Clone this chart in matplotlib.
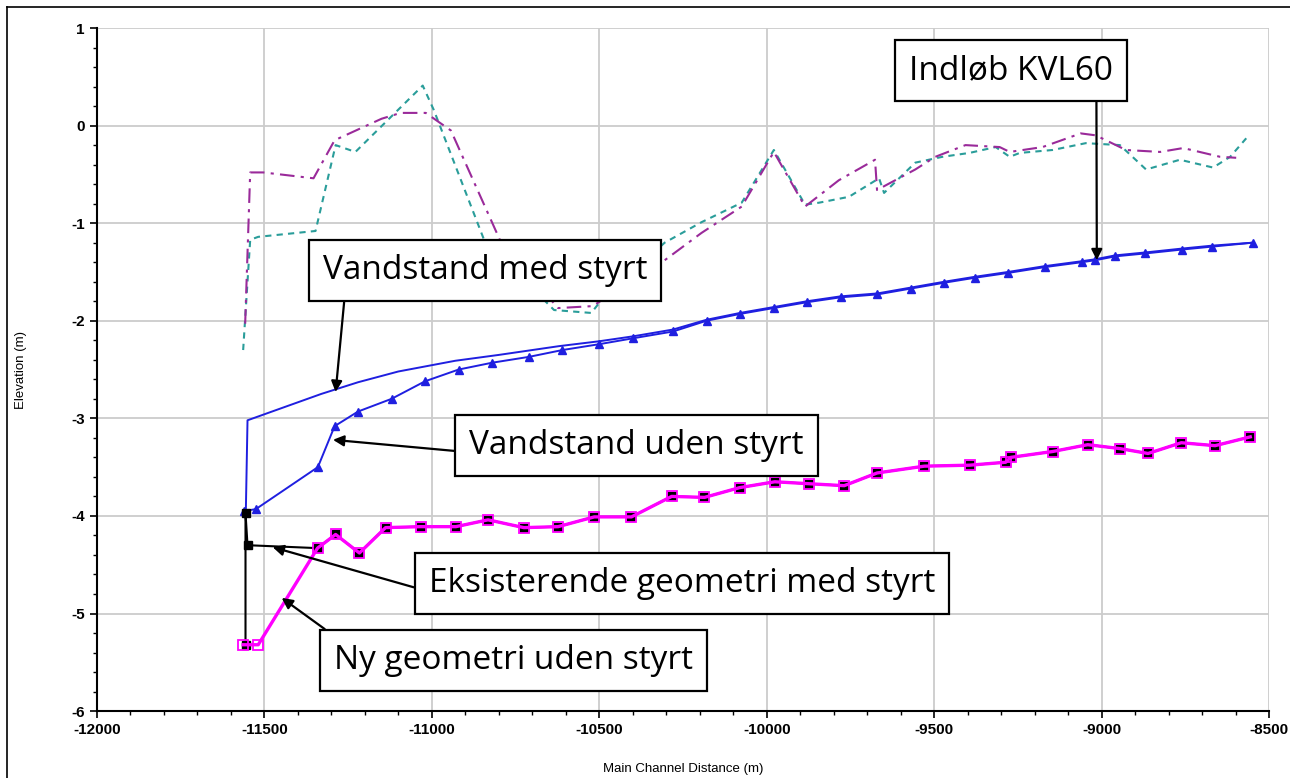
import matplotlib.pyplot as plt
from matplotlib.ticker import MultipleLocator
from matplotlib.lines import Line2D

plt.rcParams['axes.unicode_minus'] = False

# water level with drop structure ("med styrt")
ws_med_x = [-11555, -11550, -11330, -11220, -11100, -10930, -10800, -10620, -10500, -10400,
            -10280, -10180, -10080, -9980, -9880, -9780, -9670, -9570, -9470, -9380,
            -9280, -9170, -9060, -9020, -8960, -8870, -8760, -8670, -8550]
ws_med_y = [-3.95, -3.02, -2.75, -2.63, -2.52, -2.41, -2.35, -2.26, -2.21, -2.16,
            -2.09, -1.99, -1.92, -1.86, -1.80, -1.75, -1.72, -1.66, -1.60, -1.55,
            -1.50, -1.44, -1.39, -1.37, -1.33, -1.30, -1.26, -1.23, -1.20]

# water level without drop structure ("uden styrt")
ws_uden_x = [-11560, -11525, -11340, -11290, -11220, -11120, -11020, -10920, -10820, -10710,
             -10610, -10500, -10400, -10280, -10180, -10080, -9980, -9880, -9780, -9670,
             -9570, -9470, -9380, -9280, -9170, -9060, -9020, -8960, -8870, -8760,
             -8670, -8550]
ws_uden_y = [-3.95, -3.93, -3.50, -3.08, -2.93, -2.80, -2.62, -2.50, -2.43, -2.37,
             -2.30, -2.24, -2.18, -2.11, -2.00, -1.93, -1.87, -1.81, -1.76, -1.73,
             -1.67, -1.61, -1.56, -1.51, -1.45, -1.40, -1.38, -1.34, -1.31, -1.27,
             -1.24, -1.20]

# new bed geometry without drop
ny_x = [-11563, -11518, -11341, -11287, -11216, -11138, -11033, -10928, -10832, -10725,
        -10623, -10515, -10404, -10284, -10186, -10081, -9976, -9874, -9769, -9671,
        -9530, -9395, -9287, -9272, -9147, -9042, -8946, -8862, -8763, -8662, -8557]
ny_y = [-5.32, -5.32, -4.33, -4.19, -4.38, -4.12, -4.11, -4.11, -4.04, -4.12,
        -4.11, -4.01, -4.01, -3.80, -3.81, -3.71, -3.65, -3.67, -3.69, -3.56,
        -3.49, -3.48, -3.45, -3.40, -3.34, -3.27, -3.31, -3.36, -3.25, -3.28, -3.19]

# existing geometry with drop
eks_x = [-11556, -11556, -11550] + ny_x[2:]
eks_y = [-5.32, -3.97, -4.30] + ny_y[2:]

# bank / ground lines
bank1_x = [-11563, -11542, -11518, -11347, -11287, -11228, -11027, -10994, -10844, -10635,
           -10524, -10494, -10305, -10195, -10075, -9979, -9886, -9844, -9755, -9665,
           -9650, -9557, -9476, -9395, -9317, -9275, -9245, -9147, -9048, -8946,
           -8868, -8767, -8668, -8617, -8569]
bank1_y = [-2.30, -1.17, -1.14, -1.08, -0.20, -0.27, 0.41, 0.16, -1.17, -1.89,
           -1.92, -1.79, -1.20, -0.99, -0.79, -0.25, -0.81, -0.79, -0.73, -0.54,
           -0.69, -0.38, -0.32, -0.28, -0.22, -0.32, -0.28, -0.25, -0.18, -0.20,
           -0.45, -0.35, -0.43, -0.32, -0.13]

bank2_x = [-11557, -11542, -11503, -11353, -11290, -11150, -11093, -11018, -10943, -10793,
           -10623, -10520, -10305, -10195, -10075, -9979, -9886, -9785, -9677, -9671,
           -9557, -9497, -9407, -9305, -9275, -9177, -9063, -9018, -8928, -8826,
           -8757, -8647, -8599]
bank2_y = [-2.03, -0.48, -0.48, -0.54, -0.15, 0.07, 0.13, 0.13, -0.05, -1.20,
           -1.87, -1.85, -1.38, -1.10, -0.83, -0.27, -0.83, -0.56, -0.35, -0.66,
           -0.45, -0.32, -0.20, -0.22, -0.27, -0.22, -0.08, -0.10, -0.25, -0.27,
           -0.23, -0.32, -0.33]

fig = plt.figure(figsize=(12.9, 7.78), dpi=100)
ax = fig.add_axes([0.075, 0.086, 0.909, 0.878])

ax.plot(bank1_x, bank1_y, color='#2a9d9a', lw=1.5, ls=(0, (3, 2.5)))
ax.plot(bank2_x, bank2_y, color='#9a2a9a', lw=1.5, ls=(0, (7, 3, 1.5, 3)))
ax.plot(ws_med_x, ws_med_y, color='#1f1fe0', lw=1.4)
ax.plot(ws_uden_x, ws_uden_y, color='#1f1fe0', lw=1.4, marker='^', ms=5.5)
ax.plot(eks_x, eks_y, color='black', lw=1.5, marker='s', ms=5.5)
ax.plot(ny_x, ny_y, color='#ff00ff', lw=2.4, marker='s', ms=6.5, mfc='none', mec='#ff00ff', mew=1.3)

ax.set_xlim(-12000, -8500)
ax.set_ylim(-6, 1)
ax.xaxis.set_major_locator(MultipleLocator(500))
ax.xaxis.set_minor_locator(MultipleLocator(100))
ax.yaxis.set_major_locator(MultipleLocator(1))
ax.yaxis.set_minor_locator(MultipleLocator(0.2))
ax.grid(True, which='major', color='#cccccc', lw=1.3)
ax.set_axisbelow(True)
for s in ['top', 'right']:
    ax.spines[s].set_visible(False)
for s in ['left', 'bottom']:
    ax.spines[s].set_linewidth(1.5)

tick_font = ['Liberation Sans Narrow', 'Liberation Sans']
ax.tick_params(which='major', length=5, width=1.2, labelsize=11)
ax.tick_params(which='minor', length=3, width=1)
for lab in ax.get_xticklabels() + ax.get_yticklabels():
    lab.set_family(tick_font)
    lab.set_weight('bold')
ax.set_xlabel('Main Channel Distance (m)', fontsize=9.5, family=tick_font, labelpad=19)
ax.set_ylabel('Elevation (m)', fontsize=9.5, family=tick_font, labelpad=32)

box = dict(boxstyle='square,pad=0.42', fc='white', ec='black', lw=1.6)
arrow = dict(arrowstyle='-|>', color='black', lw=1.6, mutation_scale=16, shrinkA=0, shrinkB=0)
note_font = dict(fontsize=24, family='Open Sans', ha='center', va='center', bbox=box)

ax.annotate('Indløb KVL60', xy=(-9015, -1.38), xytext=(-9272, 0.56),
            arrowprops=dict(arrow, relpos=(0.92, 0.0)), **note_font)
ax.annotate('Vandstand med styrt', xy=(-11287, -2.73), xytext=(-10841, -1.49),
            arrowprops=dict(arrow, relpos=(0.07, 0.0)), **note_font)
ax.annotate('Vandstand uden styrt', xy=(-11295, -3.22), xytext=(-10389, -3.28),
            arrowprops=dict(arrow, relpos=(0.0, 0.3)), **note_font)
ax.annotate('Eksisterende geometri med styrt', xy=(-11475, -4.32), xytext=(-10254, -4.69),
            arrowprops=dict(arrow, relpos=(0.0, 0.25)), **note_font)
ax.annotate('Ny geometri uden styrt', xy=(-11448, -4.84), xytext=(-10755, -5.48),
            arrowprops=dict(arrow, relpos=(0.03, 1.0)), **note_font)

fig.add_artist(Line2D([0.0055, 0.0055], [0, 0.991], color='black', lw=1.2))
fig.add_artist(Line2D([0.0055, 1.0], [0.991, 0.991], color='black', lw=1.2))

fig.savefig('out.png', dpi=100)
